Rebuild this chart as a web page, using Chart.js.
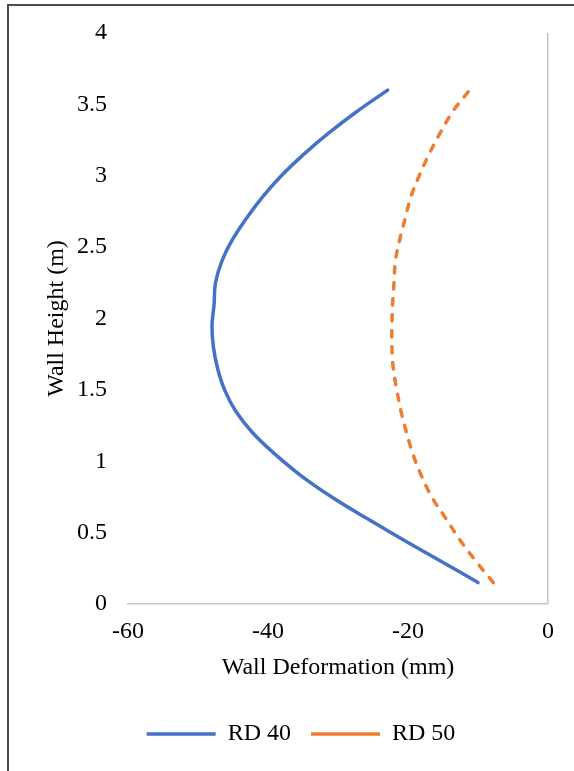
<!DOCTYPE html>
<html>
<head>
<meta charset="utf-8">
<title>Wall Deformation</title>
<script src="https://cdn.jsdelivr.net/npm/chart.js@4/dist/chart.umd.min.js"></script>
<style>
  html, body { margin: 0; padding: 0; background: #fff; overflow: hidden; }
  #frame {
    position: absolute; left: 7px; top: 4px;
    width: 584px; height: 800px;
    border: 2px solid #4d4d4d;
    background: #fff;
  }
  #chart { display: block; }
</style>
</head>
<body>
<div id="frame"><canvas id="chart" width="584" height="765"></canvas></div>
<script>
// Wall height (m) at each measurement level
const heights = [0.15, 0.30, 0.45, 0.60, 0.75, 0.90, 1.05, 1.20, 1.35, 1.50, 1.65, 1.80,
                 1.95, 2.10, 2.25, 2.40, 2.55, 2.70, 2.85, 3.00, 3.15, 3.30, 3.45, 3.60];
// Lateral wall deformation (mm), relative density 40 %
const rd40 = [-10.0, -15.3, -20.7, -25.9, -30.9, -35.3, -39.0, -42.2, -44.6, -46.2, -47.2, -47.8,
              -48.0, -47.7, -47.5, -46.6, -45.1, -43.1, -40.8, -38.1, -34.9, -31.3, -27.3, -22.9];
// Lateral wall deformation (mm), relative density 50 %
const rd50 = [-7.8, -10.3, -12.6, -14.6, -16.6, -18.1, -19.3, -20.2, -21.0, -21.6, -22.1, -22.3,
              -22.3, -22.2, -22.0, -21.8, -21.2, -20.4, -19.6, -18.4, -17.0, -15.4, -13.6, -11.2];
const seriesNames = ['RD 40', 'RD 50'];
const xTicks = [-60, -40, -20, 0];
const yTicks = [0, 0.5, 1, 1.5, 2, 2.5, 3, 3.5, 4];

const toPoints = (xs) => xs.map((x, i) => ({ x: x, y: heights[i] }));

const FONT_SIZE = 24;
Chart.defaults.font.family = "'Liberation Serif', 'Times New Roman', serif";
Chart.defaults.font.size = FONT_SIZE;
Chart.defaults.color = '#000';

const axisGrey = '#c4c4c4';

new Chart(document.getElementById('chart'), {
  type: 'scatter',
  data: {
    datasets: [
      {
        label: seriesNames[0],
        data: toPoints(rd40),
        showLine: true,
        borderColor: '#4472C4',
        backgroundColor: '#4472C4',
        borderWidth: 3.5,
        borderCapStyle: 'round',
        borderJoinStyle: 'round',
        pointRadius: 0,
        tension: 0.4,
        xAxisID: 'x',
        yAxisID: 'y'
      },
      {
        label: seriesNames[1],
        data: toPoints(rd50),
        showLine: true,
        borderColor: '#ED7D31',
        backgroundColor: '#ED7D31',
        borderWidth: 3.5,
        borderDash: [6.5, 9.5],
        borderCapStyle: 'round',
        borderJoinStyle: 'round',
        pointRadius: 0,
        tension: 0.4,
        xAxisID: 'x',
        yAxisID: 'y'
      }
    ]
  },
  options: {
    responsive: false,
    animation: false,
    devicePixelRatio: 1,
    layout: { padding: { left: 0, right: 0, top: 27, bottom: 15 } },
    plugins: {
      tooltip: { enabled: false },
      legend: {
        position: 'bottom',
        labels: {
          usePointStyle: true,
          pointStyle: 'line',
          pointStyleWidth: 69,
          padding: 20,
          color: '#000',
          font: { size: FONT_SIZE }
        }
      }
    },
    scales: {
      x: {
        type: 'linear',
        position: 'bottom',
        min: -60,
        max: 0,
        afterBuildTicks: (s) => { s.ticks = xTicks.map(v => ({ value: v })); },
        afterFit: (s) => { s.height = 98; },
        ticks: {
          padding: 13.6,
          color: '#000',
          callback: (v) => String(v)
        },
        grid: {
          drawTicks: false,
          lineWidth: 1.5,
          color: (ctx) => (ctx.tick && ctx.tick.value === 0 ? axisGrey : 'rgba(0,0,0,0)')
        },
        border: { display: true, color: axisGrey, width: 1.5 },
        title: {
          display: true,
          text: 'Wall Deformation (mm)',
          color: '#000',
          font: { size: FONT_SIZE },
          padding: { top: 0, bottom: 19.6 }
        }
      },
      y: {
        type: 'linear',
        position: 'left',
        min: 0,
        max: 4,
        afterBuildTicks: (s) => { s.ticks = yTicks.map(v => ({ value: v })); },
        afterFit: (s) => {
          s.width = 119;
          s.paddingTop = 0;
          s.paddingBottom = 0;
        },
        ticks: {
          padding: 21,
          color: '#000',
          callback: (v) => String(v)
        },
        grid: { display: false, drawTicks: false },
        border: { display: false },
        title: {
          display: true,
          text: 'Wall Height (m)',
          color: '#000',
          font: { size: FONT_SIZE },
          padding: { top: 33.6, bottom: 0 }
        }
      },
      margin: {
        type: 'linear',
        position: 'right',
        min: 0,
        max: 1,
        afterFit: (s) => { s.width = 45; },
        ticks: { display: false },
        grid: { display: false, drawTicks: false },
        border: { display: false }
      }
    }
  }
});
</script>
</body>
</html>
